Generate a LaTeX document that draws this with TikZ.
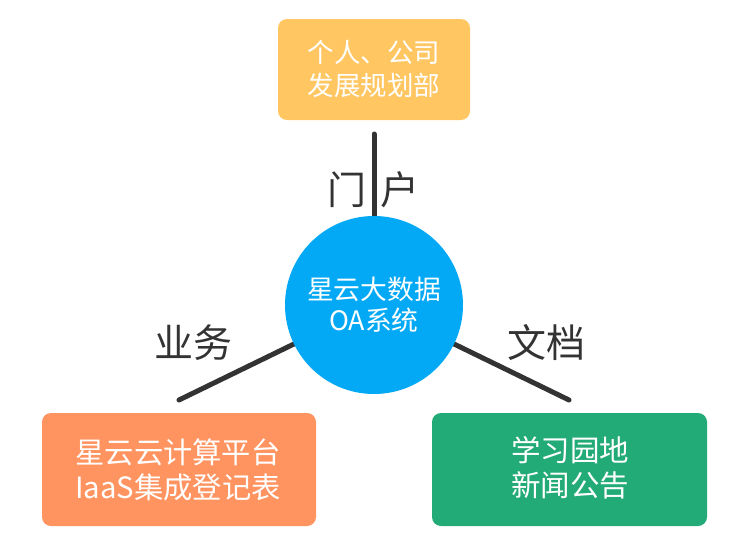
\documentclass[tikz,border=0pt]{standalone}
\usepackage{fontspec}
\setmainfont{Noto Sans CJK SC}
\definecolor{topc}{HTML}{FFC661}
\definecolor{leftc}{HTML}{FF9461}
\definecolor{rightc}{HTML}{22AA77}
\definecolor{circc}{HTML}{03A9F4}
\definecolor{linec}{HTML}{333333}
\begin{document}
\begin{tikzpicture}[x=1pt,y=-1pt,
  boxst/.style={draw=none,rounded corners=9pt,align=center,text=white,inner sep=0pt},
  conn/.style={draw=linec,line width=5pt,line cap=round},
  lab/.style={text=linec,font=\fontsize{39}{44}\selectfont,inner sep=0pt}]
\useasboundingbox (0,0) rectangle (742,546);
% connectors
\coordinate (c) at (374,305);
\coordinate (ttop) at (374,134);
\coordinate (tleft) at (179,400);
\coordinate (tright) at (569,400);
\draw[conn] (c) -- (ttop);
\draw[conn] (c) -- (tleft);
\draw[conn] (c) -- (tright);
% circle
\node[circle,fill=circc,minimum size=178pt,inner sep=0pt,text=white,align=center,
  font=\fontsize{26.8}{31}\selectfont] (hub) at (c) {星云大数据\\OA系统};
% boxes
\path[fill=topc,rounded corners=9pt] (278,19) rectangle (470,120);
\node[boxst,font=\fontsize{26.5}{33}\selectfont] (t) at (374,69) {个人、公司\\发展规划部};
\path[fill=leftc,rounded corners=9pt] (42,413) rectangle (316,526);
\node[boxst,font=\fontsize{29.3}{35}\selectfont] (l) at (178,470) {星云云计算平台\\IaaS集成登记表};
\path[fill=rightc,rounded corners=9pt] (432,413) rectangle (707,526);
\node[boxst,font=\fontsize{29.5}{35}\selectfont] (r) at (570,468) {学习园地\\新闻公告};
% labels
\node[lab] (l1) at (347,190) {门};
\node[lab] (l2) at (400,190) {户};
\node[lab] (l3) at (193,343) {业务};
\node[lab] (l4) at (546,343) {文档};
\end{tikzpicture}
\end{document}
